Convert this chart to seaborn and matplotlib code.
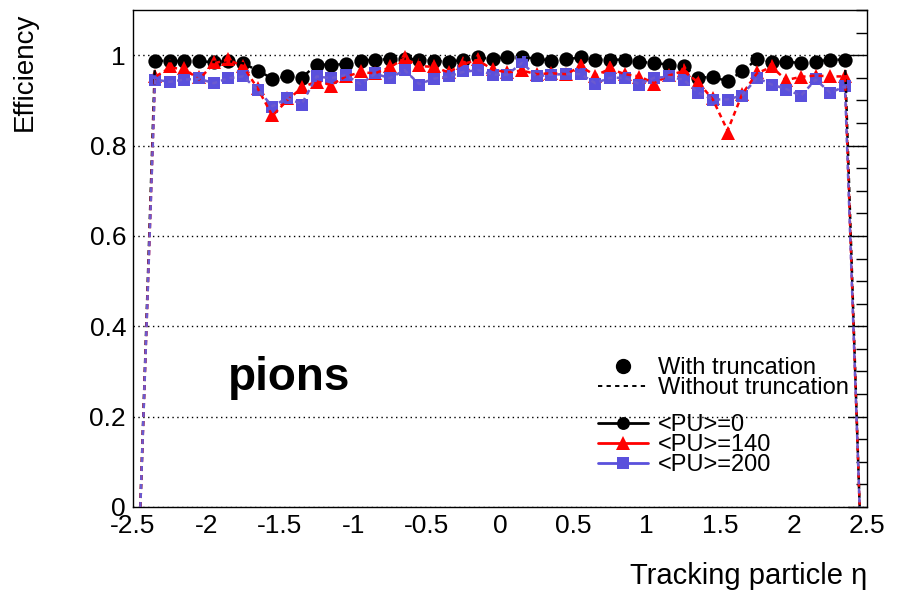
import numpy as np
import pandas as pd
import matplotlib
matplotlib.use("Agg")
import matplotlib.pyplot as plt
from matplotlib.lines import Line2D
from matplotlib.ticker import MultipleLocator
import seaborn as sns

# ---------------- data ----------------
eta = np.round(np.arange(-2.35, 2.36, 0.1), 2)          # 48 bin centres
eta_full = np.round(np.arange(-2.45, 2.46, 0.1), 2)     # 50 bin centres (incl. edge bins)

# with truncation (markers)
eff_pu0_trunc = [0.988, 0.987, 0.987, 0.987, 0.985, 0.987, 0.982, 0.965,
                 0.947, 0.953, 0.949, 0.979, 0.979, 0.980, 0.988, 0.990,
                 0.991, 0.992, 0.990, 0.988, 0.984, 0.990, 0.995, 0.992,
                 0.996, 0.996, 0.992, 0.988, 0.991, 0.995, 0.990, 0.990,
                 0.990, 0.985, 0.983, 0.979, 0.975, 0.950, 0.951, 0.942,
                 0.964, 0.991, 0.985, 0.985, 0.983, 0.986, 0.990, 0.990]
eff_pu140_trunc = [0.955, 0.975, 0.972, 0.952, 0.984, 0.992, 0.977, 0.928,
                   0.868, 0.905, 0.930, 0.940, 0.932, 0.953, 0.964, 0.960,
                   0.975, 0.997, 0.978, 0.976, 0.962, 0.983, 0.991, 0.970,
                   0.962, 0.968, 0.958, 0.960, 0.958, 0.978, 0.953, 0.973,
                   0.958, 0.952, 0.937, 0.956, 0.968, 0.940, 0.905, 0.828,
                   0.914, 0.962, 0.977, 0.945, 0.952, 0.955, 0.954, 0.953]
eff_pu200_trunc = [0.946, 0.941, 0.946, 0.949, 0.938, 0.949, 0.953, 0.923,
                   0.886, 0.905, 0.890, 0.953, 0.949, 0.957, 0.935, 0.960,
                   0.949, 0.968, 0.935, 0.948, 0.953, 0.964, 0.968, 0.957,
                   0.957, 0.985, 0.953, 0.957, 0.959, 0.959, 0.937, 0.950,
                   0.950, 0.935, 0.950, 0.953, 0.946, 0.916, 0.901, 0.901,
                   0.910, 0.950, 0.935, 0.924, 0.909, 0.947, 0.916, 0.931]

# without truncation (dashed lines), incl. empty edge bins
eff_pu0_notrunc = [0.0,
                   0.988, 0.987, 0.987, 0.986, 0.985, 0.987, 0.982, 0.966,
                   0.948, 0.953, 0.950, 0.979, 0.979, 0.980, 0.988, 0.990,
                   0.991, 0.992, 0.990, 0.988, 0.985, 0.990, 0.995, 0.992,
                   0.996, 0.996, 0.992, 0.988, 0.991, 0.995, 0.990, 0.990,
                   0.990, 0.985, 0.983, 0.979, 0.975, 0.951, 0.951, 0.943,
                   0.964, 0.991, 0.985, 0.985, 0.983, 0.986, 0.990, 0.990,
                   0.0]
eff_pu140_notrunc = [0.0,
                     0.952, 0.972, 0.970, 0.946, 0.982, 0.990, 0.975, 0.926,
                     0.866, 0.900, 0.928, 0.942, 0.934, 0.953, 0.962, 0.960,
                     0.973, 0.993, 0.976, 0.974, 0.962, 0.981, 0.989, 0.968,
                     0.962, 0.966, 0.958, 0.960, 0.958, 0.975, 0.955, 0.970,
                     0.958, 0.953, 0.938, 0.955, 0.965, 0.940, 0.902, 0.833,
                     0.914, 0.960, 0.974, 0.945, 0.952, 0.955, 0.953, 0.953,
                     0.0]
eff_pu200_notrunc = [0.0,
                     0.946, 0.941, 0.946, 0.948, 0.938, 0.949, 0.953, 0.923,
                     0.887, 0.905, 0.892, 0.953, 0.949, 0.956, 0.936, 0.959,
                     0.949, 0.967, 0.936, 0.948, 0.953, 0.963, 0.967, 0.957,
                     0.957, 0.983, 0.953, 0.957, 0.958, 0.958, 0.938, 0.950,
                     0.950, 0.936, 0.950, 0.952, 0.946, 0.917, 0.902, 0.902,
                     0.911, 0.950, 0.935, 0.925, 0.910, 0.946, 0.917, 0.931,
                     0.0]

pu_labels = ["<PU>=0", "<PU>=140", "<PU>=200"]
x_ticks = [-2.5, -2, -1.5, -1, -0.5, 0, 0.5, 1, 1.5, 2, 2.5]
x_ticklabels = ["-2.5", "-2", "-1.5", "-1", "-0.5", "0", "0.5", "1", "1.5", "2", "2.5"]
y_ticks = [0, 0.2, 0.4, 0.6, 0.8, 1.0]
y_ticklabels = ["0", "0.2", "0.4", "0.6", "0.8", "1"]

colors = ["#000000", "#ff0000", "#5a50dc"]
dash_colors = ["#000000", "#ff0000", "#6a5ad0"]
markers = ["o", "^", "s"]

# ---------------- style ----------------
sns.set_style("white")
plt.rcParams["font.family"] = ["Liberation Sans", "DejaVu Sans"]
plt.rcParams["mathtext.fontset"] = "dejavusans"
plt.rcParams["text.color"] = "black"
plt.rcParams["axes.labelcolor"] = "black"
plt.rcParams["xtick.color"] = "black"
plt.rcParams["ytick.color"] = "black"

fig = plt.figure(figsize=(8.98, 5.95), dpi=100)
ax = fig.add_axes([133 / 898, 1 - 507 / 595, (867 - 133) / 898, (507 - 10) / 595])

trunc = [eff_pu0_trunc, eff_pu140_trunc, eff_pu200_trunc]
notrunc = [eff_pu0_notrunc, eff_pu140_notrunc, eff_pu200_notrunc]

# markers (with truncation)
msizes = [10.3, 10.5, 9.2]
for i in range(3):
    df = pd.DataFrame({"eta": eta, "eff": trunc[i]})
    sns.lineplot(data=df, x="eta", y="eff", ax=ax, color=colors[i],
                 linestyle="none", marker=markers[i], markersize=msizes[i],
                 markeredgewidth=0, zorder=3 + i)

# dashed lines (without truncation)
for i in [0, 2, 1]:
    df = pd.DataFrame({"eta": eta_full, "eff": notrunc[i]})
    sns.lineplot(data=df, x="eta", y="eff", ax=ax, color=dash_colors[i],
                 linewidth=1.8, dashes=False, zorder=7 + i)
    ax.lines[-1].set_dashes((2.0, 1.6))

ax.set_xlim(-2.5, 2.5)
ax.set_ylim(0, 1.1)
ax.set_xticks(x_ticks)
ax.set_xticklabels(x_ticklabels)
ax.xaxis.set_minor_locator(MultipleLocator(0.1))
ax.set_yticks(y_ticks)
ax.set_yticklabels(y_ticklabels)
ax.yaxis.set_minor_locator(MultipleLocator(0.05))
ax.tick_params(axis="both", which="both", direction="in", top=False, right=True,
               colors="black", labelcolor="black", labelsize=19, width=1.0)
ax.tick_params(axis="x", which="major", length=16, pad=5)
ax.tick_params(axis="x", which="minor", length=8)
ax.tick_params(axis="y", which="major", length=14, pad=5)
ax.tick_params(axis="y", which="minor", length=8)
for s in ax.spines.values():
    s.set_color("black")
    s.set_linewidth(1.0)

ax.yaxis.grid(True, which="major", color="black", linestyle=(0, (1, 2.5)), linewidth=1.0)
ax.xaxis.grid(False)
ax.set_axisbelow(True)

ax.set_xlabel("Tracking particle η", fontsize=21, loc="right", color="black")
ax.xaxis.set_label_coords(1.0, -0.11)
ax.set_ylabel("Efficiency", fontsize=20, loc="top", color="black")
ax.yaxis.set_label_coords(-0.13, 0.995)

ax.text(289 / 898, 1 - 378 / 595, "pions", transform=fig.transFigure,
        fontsize=33, fontweight="bold", ha="center", va="center",
        color="black", family=["Liberation Sans"])

# legends
h1 = [Line2D([], [], color="black", marker="o", linestyle="none", markersize=10),
      Line2D([], [], color="black", linestyle=(0, (2.2, 2.2)), linewidth=1.4)]
leg1 = fig.legend(h1, ["With truncation", "Without truncation"], loc="center left",
                  bbox_to_anchor=(598 / 898, 1 - 378 / 595), bbox_transform=fig.transFigure,
                  frameon=False, fontsize=17, borderpad=0, borderaxespad=0,
                  handlelength=2.1, handletextpad=0.45, labelspacing=-0.08,
                  labelcolor="black")
h2 = [Line2D([], [], color=colors[i], marker=markers[i], markersize=msizes[i] * 0.9,
             linewidth=2.0, markeredgewidth=0) for i in range(3)]
leg2 = fig.legend(h2, pu_labels, loc="center left",
                  bbox_to_anchor=(598 / 898, 1 - 445 / 595), bbox_transform=fig.transFigure,
                  frameon=False, fontsize=17, borderpad=0, borderaxespad=0,
                  handlelength=2.1, handletextpad=0.45, labelspacing=-0.08,
                  labelcolor="black")

fig.savefig("out.png", dpi=100, facecolor="white")
